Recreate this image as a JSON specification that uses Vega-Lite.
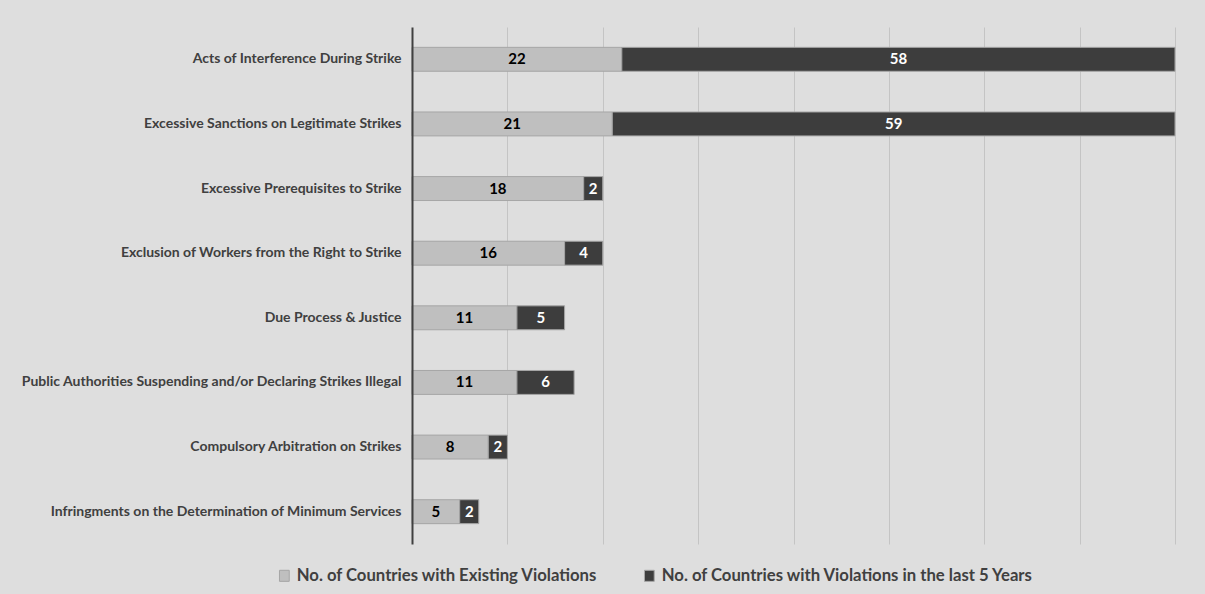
{
  "$schema": "https://vega.github.io/schema/vega-lite/v6.json",
  "width": 763,
  "height": 517,
  "autosize": {"type": "none"},
  "padding": {"left": 412, "top": 27, "right": 30, "bottom": 50},
  "background": "#dedede",
  "config": {
    "view": {"stroke": null},
    "font": "Lato, sans-serif"
  },
  "data": {
    "values": [
      {"category": "Acts of Interference During Strike", "series": "No. of Countries with Existing Violations", "value": 22},
      {"category": "Acts of Interference During Strike", "series": "No. of Countries with Violations in the last 5 Years", "value": 58},
      {"category": "Excessive Sanctions on Legitimate Strikes", "series": "No. of Countries with Existing Violations", "value": 21},
      {"category": "Excessive Sanctions on Legitimate Strikes", "series": "No. of Countries with Violations in the last 5 Years", "value": 59},
      {"category": "Excessive Prerequisites to Strike", "series": "No. of Countries with Existing Violations", "value": 18},
      {"category": "Excessive Prerequisites to Strike", "series": "No. of Countries with Violations in the last 5 Years", "value": 2},
      {"category": "Exclusion of Workers from the Right to Strike", "series": "No. of Countries with Existing Violations", "value": 16},
      {"category": "Exclusion of Workers from the Right to Strike", "series": "No. of Countries with Violations in the last 5 Years", "value": 4},
      {"category": "Due Process & Justice", "series": "No. of Countries with Existing Violations", "value": 11},
      {"category": "Due Process & Justice", "series": "No. of Countries with Violations in the last 5 Years", "value": 5},
      {"category": "Public Authorities Suspending  and/or Declaring Strikes Illegal", "series": "No. of Countries with Existing Violations", "value": 11},
      {"category": "Public Authorities Suspending  and/or Declaring Strikes Illegal", "series": "No. of Countries with Violations in the last 5 Years", "value": 6},
      {"category": "Compulsory Arbitration on Strikes", "series": "No. of Countries with Existing Violations", "value": 8},
      {"category": "Compulsory Arbitration on Strikes", "series": "No. of Countries with Violations in the last 5 Years", "value": 2},
      {"category": "Infringments on the Determination of Minimum Services", "series": "No. of Countries with Existing Violations", "value": 5},
      {"category": "Infringments on the Determination of Minimum Services", "series": "No. of Countries with Violations in the last 5 Years", "value": 2}
    ]
  },
  "encoding": {
    "y": {
      "field": "category",
      "type": "nominal",
      "sort": null,
      "title": null,
      "scale": {"paddingInner": 0.63, "paddingOuter": 0.315},
      "axis": {
        "ticks": false,
        "labelPadding": 11,
        "labelFontSize": 14,
        "labelFontWeight": "bold",
        "labelColor": "#404040",
        "labelLimit": 420,
        "domainColor": "#404040",
        "domainWidth": 2,
        "grid": false,
        "zindex": 2
      }
    }
  },
  "layer": [
    {
      "mark": {"type": "bar", "stroke": "#a6a6a6", "strokeWidth": 1},
      "encoding": {
        "x": {
          "field": "value",
          "type": "quantitative",
          "stack": "zero",
          "title": null,
          "scale": {"domain": [0, 80], "nice": false},
          "axis": {
            "values": [10, 20, 30, 40, 50, 60, 70, 80],
            "labels": false,
            "ticks": false,
            "domain": false,
            "grid": true,
            "gridColor": "#c4c4c4",
            "gridWidth": 1,
            "zindex": 0
          }
        },
        "color": {
          "field": "series",
          "type": "nominal",
          "scale": {
            "domain": ["No. of Countries with Existing Violations", "No. of Countries with Violations in the last 5 Years"],
            "range": ["#bfbfbf", "#3d3d3d"]
          },
          "legend": {
            "title": null,
            "orient": "none",
            "direction": "horizontal",
            "legendX": -136,
            "legendY": 540,
            "symbolType": "M-0.75,-0.85H0.75V0.85H-0.75Z",
            "symbolSize": 169,
            "symbolStrokeColor": "#a6a6a6",
            "symbolStrokeWidth": 1,
            "symbolOpacity": 1,
            "labelFontSize": 16.7,
            "labelFontWeight": "bold",
            "labelColor": "#404040",
            "labelOffset": 4,
            "columnPadding": 43,
            "labelLimit": 450
          }
        }
      }
    },
    {
      "transform": [
        {"stack": "value", "groupby": ["category"], "sort": [{"field": "series"}], "as": ["v0", "v1"]},
        {"fold": ["v0", "v1"], "as": ["edge", "pos"]},
        {"aggregate": [{"op": "mean", "field": "pos", "as": "mid"}], "groupby": ["category", "series", "value"]}
      ],
      "mark": {"type": "text", "fontWeight": "bold", "fontSize": 15},
      "encoding": {
        "x": {"field": "mid", "type": "quantitative"},
        "text": {"field": "value", "type": "quantitative"},
        "color": {
          "condition": {"test": "datum.series === 'No. of Countries with Violations in the last 5 Years'", "value": "#ffffff"},
          "value": "#000000"
        }
      }
    }
  ]
}
